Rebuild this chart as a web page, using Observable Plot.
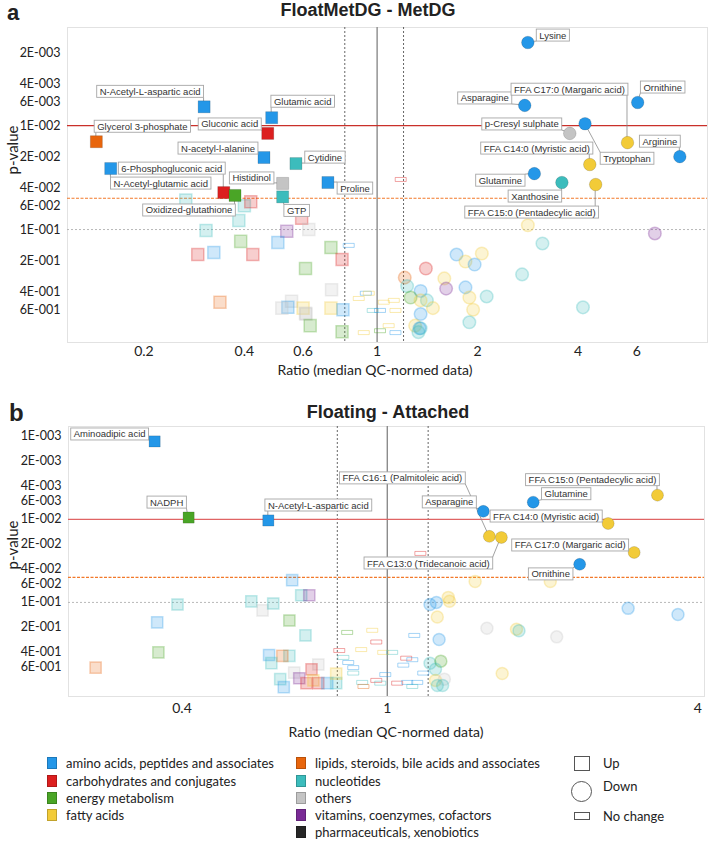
<!DOCTYPE html>
<html><head><meta charset="utf-8">
<script src="https://cdn.jsdelivr.net/npm/d3@7"></script>
<script src="https://cdn.jsdelivr.net/npm/@observablehq/plot@0.6"></script>
<style>
body{margin:0;background:#fff;}
#root{position:relative;width:708px;height:841px;overflow:hidden;font-family:Lato,"Open Sans",sans-serif;color:#222}
.abs{position:absolute;white-space:nowrap}
.panel{font-family:"Liberation Sans",Arial,sans-serif;font-weight:bold;font-size:24px;line-height:17px}
.panelA{font-family:"Liberation Sans",Arial,sans-serif;font-weight:bold;font-size:22px;line-height:normal}
.title{font-family:"Liberation Sans",Arial,sans-serif;font-weight:bold;font-size:18px;line-height:20px;transform:translate(-50%,-50%)}
.ylab{font-size:15px;transform:translate(-50%,-50%) rotate(-90deg)}
.xlab{font-size:14px;transform:translate(-50%,-50%)}
.lg{font-size:13px;transform:translateY(-50%)}
.sw{width:10px;height:12px;box-sizing:border-box;border:1px solid rgba(0,0,0,0.2)}
</style></head><body><div id="root"></div>
<script>
// ---------- categories ----------
const categories = [
  "amino acids, peptides and associates",
  "carbohydrates and conjugates",
  "energy metabolism",
  "fatty acids",
  "lipids, steroids, bile acids and associates",
  "nucleotides",
  "others",
  "vitamins, coenzymes, cofactors",
  "pharmaceuticals, xenobiotics"
];
const categoryColors = ["#2497e8","#dc1f1f","#4aa526","#f2cb38","#e8650c","#3cbcbc","#c4c4c4","#7a2b96","#262626"];
const [AA, CARB, EN, FA, LIP, NUC, OTH, VIT, PH] = categories;
const changeLabels = ["Up", "Down", "No change"];

// ---------- panel a : FloatMetDG - MetDG ----------
const topNamed = [ // [name, ratio, p-value, category]
  ["N-Acetyl-L-aspartic acid", 0.303, 0.0066, AA],
  ["Glutamic acid", 0.483, 0.0084, AA],
  ["Glycerol 3-phosphate", 0.144, 0.0143, LIP],
  ["Gluconic acid", 0.470, 0.0119, CARB],
  ["N-acetyl-l-alanine", 0.458, 0.0203, AA],
  ["Cytidine", 0.571, 0.0232, NUC],
  ["N-Acetyl-glutamic acid", 0.159, 0.0259, AA],
  ["6-Phosphogluconic acid", 0.347, 0.0441, CARB],
  ["Oxidized-glutathione", 0.375, 0.0470, EN],
  ["Histidinol", 0.521, 0.0360, OTH],
  ["GTP", 0.521, 0.0485, NUC],
  ["Proline", 0.712, 0.0353, AA],
  ["Lysine", 2.83, 0.00159, AA],
  ["Asparagine", 2.77, 0.0064, AA],
  ["Ornithine", 6.04, 0.0060, AA],
  ["Tryptophan", 4.20, 0.0096, AA],
  ["p-Cresyl sulphate", 3.78, 0.0119, OTH],
  ["FFA C17:0 (Margaric acid)", 5.63, 0.0146, FA],
  ["Arginine", 8.08, 0.0199, AA],
  ["FFA C14:0 (Myristic acid)", 4.34, 0.0237, FA],
  ["Glutamine", 2.96, 0.0290, AA],
  ["Xanthosine", 3.58, 0.0353, NUC],
  ["FFA C15:0 (Pentadecylic acid)", 4.52, 0.0369, FA]
];
const topOther = [ // [ratio, p-value, category]
  [0.267,0.052,NUC],[0.400,0.059,NUC],[0.418,0.054,CARB],[0.385,0.082,NUC],[0.594,0.078,CARB],
  [0.307,0.102,NUC],[0.536,0.104,VIT],[0.624,0.100,OTH],[0.390,0.130,EN],[0.504,0.133,AA],
  [0.727,0.149,EN],[0.290,0.174,CARB],[0.324,0.166,AA],[0.424,0.174,CARB],[0.785,0.194,CARB],
  [0.610,0.237,EN],[0.730,0.38,OTH],[0.338,0.50,LIP],[0.554,0.49,OTH],[0.540,0.56,AA],
  [0.518,0.57,OTH],[0.600,0.57,FA],[0.610,0.64,OTH],[0.612,0.65,OTH],[0.727,0.57,FA],
  [0.790,0.59,AA],[0.630,0.84,EN],[0.785,0.96,EN],
  [2.83,0.091,FA],[6.8,0.109,VIT],[3.13,0.136,NUC],[1.73,0.174,AA],[2.06,0.170,FA],
  [1.84,0.203,FA],[1.96,0.217,AA],[1.40,0.237,CARB],[2.72,0.27,NUC],[1.21,0.29,LIP],
  [1.59,0.295,FA],[1.23,0.35,NUC],[1.61,0.37,VIT],[1.84,0.36,AA],[1.35,0.39,AA],
  [1.26,0.45,EN],[1.41,0.48,NUC],[1.35,0.48,FA],[1.89,0.45,FA],[2.13,0.44,NUC],
  [1.47,0.57,FA],[1.94,0.59,FA],[4.14,0.56,NUC],[1.35,0.65,AA],[1.89,0.78,NUC],
  [1.30,0.84,FA],[1.35,0.89,NUC],[1.34,0.89,AA],[1.33,0.97,NUC],
  [0.822,0.142,AA],[0.881,0.46,FA],[0.925,0.41,AA],[0.944,0.41,FA],[1.047,0.50,FA],
  [1.122,0.48,FA],[0.970,0.60,NUC],[1.02,0.60,AA],[1.135,0.60,FA],[1.083,0.84,FA],
  [1.02,0.94,EN],[0.912,0.98,FA],[1.135,0.98,AA],[1.177,0.033,CARB]
];
const topXTicks = [0.2, 0.4, 0.6, 1, 2, 4, 6];
const topYTicks = [0.002, 0.004, 0.006, 0.01, 0.02, 0.04, 0.06, 0.1, 0.2, 0.4, 0.6];

// ---------- panel b : Floating - Attached ----------
const bottomNamed = [
  ["Aminoadipic acid", 0.354, 0.00115, AA],
  ["NADPH", 0.412, 0.0095, EN],
  ["N-Acetyl-L-aspartic acid", 0.588, 0.0103, AA],
  ["Asparagine", 1.535, 0.0080, AA],
  ["Glutamine", 1.918, 0.0062, AA],
  ["FFA C15:0 (Pentadecylic acid)", 3.34, 0.0051, FA],
  ["FFA C14:0 (Myristic acid)", 2.68, 0.0112, FA],
  ["FFA C16:1 (Palmitoleic acid)", 1.577, 0.0160, FA],
  ["FFA C13:0 (Tridecanoic acid)", 1.664, 0.0165, FA],
  ["FFA C17:0 (Margaric acid)", 3.01, 0.0250, FA],
  ["Ornithine", 2.36, 0.0348, AA]
];
const bottomOther = [
  [0.272,0.61,LIP],[0.358,0.174,AA],[0.360,0.40,EN],[0.392,0.106,NUC],[0.654,0.054,AA],
  [0.681,0.082,NUC],[0.706,0.082,VIT],[0.545,0.097,NUC],[0.573,0.125,OTH],[0.601,0.103,NUC],
  [0.646,0.165,EN],[0.694,0.25,NUC],[0.590,0.43,AA],[0.646,0.44,NUC],[0.626,0.44,LIP],
  [0.596,0.54,NUC],[0.735,0.56,OTH],[0.713,0.64,CARB],[0.660,0.70,OTH],[0.675,0.82,VIT],
  [0.620,0.84,NUC],[0.630,1.05,AA],[0.697,0.94,CARB],[0.719,0.87,FA],[0.735,0.94,CARB],
  [0.765,0.94,AA],[0.796,0.94,NUC],[0.796,0.72,FA],
  [1.48,0.056,FA],[2.07,0.056,FA],[1.313,0.087,FA],[1.32,0.097,FA],[1.245,0.100,AA],
  [1.21,0.106,AA],[2.93,0.118,AA],[3.66,0.140,AA],[1.25,0.150,FA],[1.56,0.205,OTH],
  [1.78,0.21,FA],[1.80,0.22,NUC],[2.13,0.26,OTH],[1.26,0.28,AA],[1.21,0.54,NUC],
  [1.27,0.51,EN],[1.24,0.64,NUC],[1.67,0.72,FA],[1.24,0.87,FA],[1.29,0.84,OTH],
  [1.25,1.0,NUC],[1.28,1.0,NUC],
  [0.836,0.23,EN],[0.935,0.217,FA],[0.952,0.30,CARB],[0.890,0.37,FA],[0.807,0.38,CARB],
  [0.982,0.40,FA],[1.022,0.40,NUC],[1.128,0.25,AA],[0.822,0.46,NUC],[0.840,0.53,AA],
  [0.859,0.61,AA],[1.088,0.47,CARB],[1.118,0.49,AA],[1.074,0.57,AA],[0.859,0.71,NUC],
  [0.991,0.74,AA],[1.174,0.71,AA],[0.952,0.87,CARB],[0.894,0.92,NUC],[1.045,0.94,CARB],
  [1.093,0.92,AA],[1.143,0.92,AA],[0.899,1.03,LIP],[0.969,0.94,NUC],[1.118,1.03,NUC],
  [1.159,0.0257,CARB]
];
const bottomXTicks = [0.4, 1, 4];
const bottomYTicks = [0.001, 0.002, 0.004, 0.006, 0.01, 0.02, 0.04, 0.06, 0.1, 0.2, 0.4, 0.6];

// ---------- label placement (pixel offsets of label boxes from their point) ----------
const topLabelOffsets = {
  "N-Acetyl-L-aspartic acid":[-54,-15], "Glutamic acid":[31,-16], "Glycerol 3-phosphate":[46,-15],
  "Gluconic acid":[-38,-9], "N-acetyl-l-alanine":[-46,-9], "Cytidine":[29,-6],
  "6-Phosphogluconic acid":[-52,-24], "N-Acetyl-glutamic acid":[50,15], "Histidinol":[-31,-5],
  "Proline":[27,6], "Oxidized-glutathione":[-46,15], "GTP":[14,14], "Lysine":[25,-7],
  "Asparagine":[-40,-7], "FFA C17:0 (Margaric acid)":[-58,-53], "Ornithine":[25,-15],
  "p-Cresyl sulphate":[-48,-9], "Arginine":[-20,-15], "FFA C14:0 (Myristic acid)":[-53,-16],
  "Glutamine":[-34,7], "Xanthosine":[-27,14], "FFA C15:0 (Pentadecylic acid)":[-64,28],
  "Tryptophan":[42,35]
};
const bottomLabelOffsets = {
  "Aminoadipic acid":[-45,-7], "NADPH":[-22,-15], "N-Acetyl-L-aspartic acid":[50,-15],
  "FFA C16:1 (Palmitoleic acid)":[-87,-58], "FFA C13:0 (Tridecanoic acid)":[-73,26],
  "Asparagine":[-34,-9], "Glutamine":[33,-8], "FFA C15:0 (Pentadecylic acid)":[-65,-15],
  "FFA C14:0 (Myristic acid)":[-62,-7], "FFA C17:0 (Margaric acid)":[-64,-7], "Ornithine":[-29,10]
};

const root = document.getElementById("root");
const sciFmt = p => { const e = Math.floor(Math.log10(p) + 1e-9); const m = Math.round(p / 10 ** e); return `${m}E-${String(-e).padStart(3, "0")}`; };
const flatSymbol = {draw(ctx) { ctx.moveTo(-5.5,-2); ctx.lineTo(5.5,-2); ctx.lineTo(5.5,2); ctx.lineTo(-5.5,2); ctx.closePath(); }};

function addText(cls, text, x, y, extra) {
  const d = document.createElement("div");
  d.className = "abs " + cls; d.textContent = text;
  d.style.left = x + "px"; d.style.top = y + "px";
  if (extra) Object.assign(d.style, extra);
  root.appendChild(d); return d;
}

function drawPanel(cfg) {
  const rows = [
    ...cfg.named.map(([name, ratio, p, cat]) => ({name, ratio, p, cat})),
    ...cfg.other.map(([ratio, p, cat]) => ({name: "", ratio, p, cat}))
  ].map(d => ({...d, change: d.ratio < 0.8 ? changeLabels[0] : d.ratio > 1.2 ? changeLabels[1] : changeLabels[2]}));
  rows.forEach(d => d.sig = d.change !== "No change" && d.p < 0.05);
  const flat = rows.filter(d => d.change === "No change");
  const fadedSq = rows.filter(d => !d.sig && d.change === "Up");
  const fadedCi = rows.filter(d => !d.sig && d.change === "Down");
  const sigSq = rows.filter(d => d.sig && d.change === "Up");
  const sigCi = rows.filter(d => d.sig && d.change === "Down");
  const labelled = rows.filter(d => d.sig && d.name);
  const plot = Plot.plot({
    width: 708, height: cfg.height,
    marginTop: cfg.mt, marginBottom: cfg.mb, marginLeft: cfg.ml, marginRight: cfg.mr,
    style: {fontFamily: "Lato, sans-serif", fontSize: "12.5px", color: "#222", background: "transparent", overflow: "visible"},
    x: {type: "log", domain: cfg.xDomain, axis: null},
    y: {type: "log", domain: cfg.yDomain, reverse: true, axis: null},
    color: {domain: categories, range: categoryColors},
    marks: [
      Plot.frame({stroke: "#e2e2e2"}),
      Plot.ruleY([0.1], {stroke: "#b8b8b8", strokeDasharray: "2,2"}),
      Plot.ruleX([1], {stroke: "#8c8c8c", strokeWidth: 1.4}),
      Plot.ruleX([0.8, 1.2], {stroke: "#555", strokeDasharray: "2,2", strokeWidth: 0.9}),
      Plot.ruleY([0.05], {stroke: "#f2792a", strokeDasharray: "3,1.5", strokeWidth: 1.2}),
      Plot.ruleY([0.01], {stroke: cfg.red, strokeWidth: 1.3}),
      Plot.dot(flat, {x: "ratio", y: "p", symbol: flatSymbol, stroke: "cat", strokeOpacity: 0.4, fill: "none", strokeWidth: 1}),
      Plot.dot(fadedSq, {x: "ratio", y: "p", symbol: "square", r: cfg.rs, fill: "cat", fillOpacity: 0.22, stroke: "cat", strokeOpacity: 0.3}),
      Plot.dot(fadedCi, {x: "ratio", y: "p", symbol: "circle", r: cfg.rc, fill: "cat", fillOpacity: 0.22, stroke: "cat", strokeOpacity: 0.3}),
      Plot.dot(sigSq, {x: "ratio", y: "p", symbol: "square", r: cfg.rs, fill: "cat", stroke: "#000", strokeOpacity: 0.18, strokeWidth: 0.8}),
      Plot.dot(sigCi, {x: "ratio", y: "p", symbol: "circle", r: cfg.rc, fill: "cat", stroke: "#000", strokeOpacity: 0.18, strokeWidth: 0.8}),
      ...labelled.map(d => Plot.text([d], {x: "ratio", y: "p", text: "name",
        dx: cfg.offsets[d.name][0], dy: cfg.offsets[d.name][1],
        fontSize: 9.5, fontFamily: "Liberation Sans, Arial, sans-serif", fill: "#333"})),
      // tick labels
      Plot.text(cfg.yTicks, {y: d => d, text: sciFmt, frameAnchor: "left", textAnchor: "end", dx: -7, fontSize: 12.5, fill: "#222"}),
      Plot.text(cfg.xTicks, {x: d => d, text: d => String(d), frameAnchor: "bottom", lineAnchor: "top", dy: cfg.xdy, fontSize: 14, fill: "#222"})
    ]
  });
  plot.style.position = "absolute";
  plot.style.left = "0px";
  plot.style.top = cfg.top + "px";
  root.appendChild(plot);

  const svg = d3.select(plot);
  const sx = plot.scale("x"), sy = plot.scale("y");
  const pr = plot.getBoundingClientRect();
  const textNodes = svg.selectAll('g[aria-label="text"] text').nodes().slice(0, labelled.length);
  const firstTextG = svg.select('g[aria-label="text"]').node();
  const firstDotG = svg.select('g[aria-label="dot"]').node();
  const lineG = svg.insert("g", () => firstDotG).attr("stroke", "#8a8a8a").attr("stroke-width", 0.8);
  const boxG = svg.insert("g", () => firstTextG).attr("fill", "#fff").attr("stroke", "#a6a6a6").attr("stroke-width", 0.9);
  textNodes.forEach((node, i) => {
    const d = labelled[i];
    const b = node.getBoundingClientRect();
    const x0 = b.left - pr.left - 3, x1 = b.right - pr.left + 3;
    const y0 = b.top - pr.top - 0.5, y1 = b.bottom - pr.top + 0.5;
    boxG.append("rect").attr("x", x0).attr("y", y0).attr("width", x1 - x0).attr("height", y1 - y0);
    const px = sx.apply(d.ratio), py = sy.apply(d.p);
    const cx = Math.max(x0, Math.min(x1, px)), cy = Math.max(y0, Math.min(y1, py));
    lineG.append("line").attr("x1", px).attr("y1", py).attr("x2", cx).attr("y2", cy);
  });
}

// headers
addText("panelA", "a", 7, 0);
addText("title", "FloatMetDG - MetDG", 368, 10);
addText("panel", "b", 9, 404);
addText("title", "Floating - Attached", 388, 412);

drawPanel({named: topNamed, other: topOther, offsets: topLabelOffsets, top: 20, height: 362,
  mt: 7, mb: 40, ml: 67, mr: 1, xDomain: [0.118, 9.78], yDomain: [0.00114, 1.22],
  xTicks: topXTicks, yTicks: topYTicks, red: "#c9302a", rs: 6.8, rc: 6.3, xdy: 4});
drawPanel({named: bottomNamed, other: bottomOther, offsets: bottomLabelOffsets, top: 420, height: 302,
  mt: 6, mb: 26, ml: 68, mr: 4, xDomain: [0.241, 4.12], yDomain: [0.00076, 1.36],
  xTicks: bottomXTicks, yTicks: bottomYTicks, red: "#e06464", rs: 6.3, rc: 6.0, xdy: 7});

addText("ylab", "p-value", 12, 150);
addText("ylab", "p-value", 12, 545);
addText("xlab", "Ratio (median QC-normed data)", 375, 369);
addText("xlab", "Ratio (median QC-normed data)", 386, 731);

// legend
const legendRows = [763, 781, 798, 815, 832];
categories.forEach((c, i) => {
  const col = i < 4 ? 0 : 1, row = i < 4 ? i : i - 4;
  const sx = col ? 296 : 47, tx = col ? 315 : 66;
  const sw = document.createElement("div");
  sw.className = "abs sw";
  Object.assign(sw.style, {left: sx + "px", top: (legendRows[row] - 6) + "px", background: categoryColors[i]});
  root.appendChild(sw);
  addText("lg", c, tx, legendRows[row]);
});
const shapeBox = (l, t, w, h, radius) => {
  const s = document.createElement("div"); s.className = "abs";
  Object.assign(s.style, {left: l + "px", top: t + "px", width: w + "px", height: h + "px", border: "1px solid #555", borderRadius: radius, boxSizing: "border-box", background: "#fff"});
  root.appendChild(s);
};
shapeBox(574, 756, 16, 15, "0");
shapeBox(571, 781, 21, 21, "50%");
shapeBox(574, 812, 16, 8, "0");
addText("lg", changeLabels[0], 603, 763);
addText("lg", changeLabels[1], 603, 786);
addText("lg", changeLabels[2], 603, 816);
</script></body></html>
